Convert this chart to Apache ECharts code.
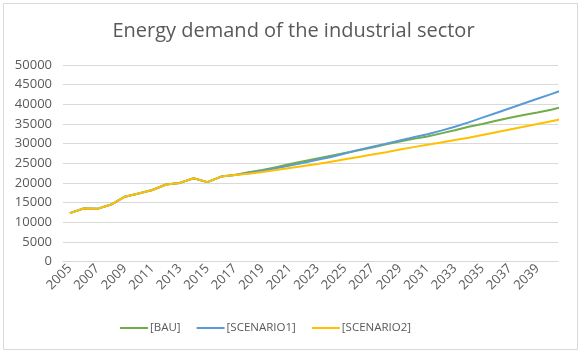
<!DOCTYPE html>
<html>
<head>
<meta charset="utf-8">
<script src="https://cdn.jsdelivr.net/npm/echarts@6/dist/echarts.min.js"></script>
<style>
html,body{margin:0;padding:0;background:#fff;}
#c{width:587px;height:358px;}
</style>
</head>
<body>
<div id="c"></div>
<script>
const years = [];
for (let y = 2005; y <= 2040; y++) years.push(String(y));

const history = [12300, 13500, 13400, 14500, 16500, 17300, 18200, 19600, 20000, 21200, 20200, 21600, 22000];

const bauFuture = [22700, 23300, 24000, 24800, 25500, 26200, 26900, 27600, 28300, 29000, 29800, 30500, 31200, 31800, 32600, 33400, 34300, 35000, 35800, 36600, 37300, 37900, 38600, 39500];
const s1Future = [22500, 23100, 23700, 24400, 25100, 25900, 26600, 27500, 28400, 29200, 30000, 30800, 31600, 32400, 33300, 34300, 35400, 36600, 37800, 39000, 40200, 41400, 42600, 43800];
const s2Future = [22300, 22800, 23300, 23800, 24300, 24800, 25400, 26000, 26600, 27200, 27800, 28500, 29100, 29700, 30300, 30900, 31500, 32200, 32900, 33600, 34300, 35000, 35700, 36400];

const BAU = history.concat(bauFuture);
const SCENARIO1 = history.concat(s1Future);
const SCENARIO2 = history.concat(s2Future);

const chart = echarts.init(document.getElementById('c'));
const txt = '#595959';
const fontFam = '"Open Sans", "Noto Sans", sans-serif';
chart.setOption({
  animation: false,
  title: {
    text: 'Energy demand of the industrial sector',
    left: 'center',
    top: 16,
    textStyle: {color: txt, fontSize: 20, fontWeight: 'normal', fontFamily: fontFam}
  },
  graphic: [{
    type: 'rect',
    shape: {x: 3.5, y: 3.5, width: 574, height: 346},
    style: {fill: 'none', stroke: '#d9d9d9', lineWidth: 1},
    silent: true
  }],
  legend: {
    bottom: 19,
    left: 115,
    itemWidth: 28,
    itemHeight: 2,
    itemGap: 16,
    icon: 'rect',
    textStyle: {color: txt, fontSize: 11.5, fontFamily: fontFam, padding: [0, 0, 0, -3]},
    data: ['[BAU]', '[SCENARIO1]', '[SCENARIO2]']
  },
  grid: {left: 63, right: 29, top: 65, bottom: 96.5},
  xAxis: {
    type: 'category',
    data: years,
    boundaryGap: true,
    axisLine: {lineStyle: {color: '#d9d9d9'}},
    axisTick: {show: false},
    axisLabel: {interval: 1, rotate: 45, color: txt, fontSize: 13, fontFamily: fontFam, margin: 5}
  },
  yAxis: {
    type: 'value',
    min: 0,
    max: 50000,
    interval: 5000,
    axisLine: {show: false},
    axisTick: {show: false},
    splitLine: {lineStyle: {color: '#d9d9d9'}},
    axisLabel: {color: txt, fontSize: 13, fontFamily: fontFam, margin: 11, formatter: v => String(v)}
  },
  series: [
    {name: '[BAU]', type: 'line', data: BAU, symbol: 'none', lineStyle: {width: 2, color: '#70ad47'}, itemStyle: {color: '#70ad47'}},
    {name: '[SCENARIO1]', type: 'line', data: SCENARIO1, symbol: 'none', lineStyle: {width: 2, color: '#5b9bd5'}, itemStyle: {color: '#5b9bd5'}},
    {name: '[SCENARIO2]', type: 'line', data: SCENARIO2, symbol: 'none', lineStyle: {width: 2, color: '#ffc000'}, itemStyle: {color: '#ffc000'}}
  ]
});
</script>
</body>
</html>
